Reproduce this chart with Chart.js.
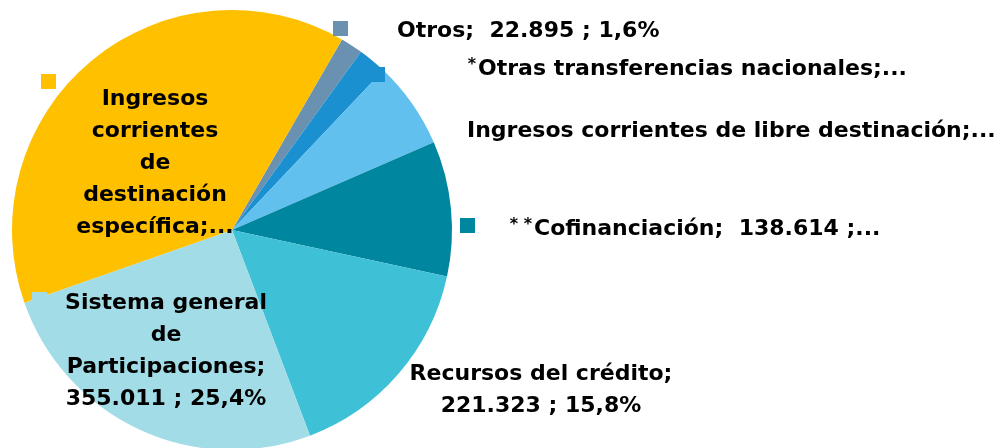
<!DOCTYPE html>
<html>
<head>
<meta charset="utf-8">
<script src="https://cdn.jsdelivr.net/npm/chart.js@4"></script>
<style>
  html, body { margin: 0; padding: 0; background: #fff; overflow: hidden; }
  #wrap { width: 1004px; height: 460px; }
</style>
</head>
<body>
<div id="wrap"><canvas id="myChart"></canvas></div>
<script>
// slices, clockwise from the top-right
const categories = [
  'Otros',
  '*Otras transferencias nacionales',
  'Ingresos corrientes de libre destinación',
  '**Cofinanciación',
  'Recursos del crédito',
  'Sistema general de Participaciones',
  'Ingresos corrientes de destinación específica'
];
const values = [22895, 29400, 89500, 138614, 221323, 355011, 541000];
const colors = ['#6A91B0', '#1A90D0', '#62C0EF', '#00869E', '#3EC1D6', '#A2DCE6', '#FFC000'];

// label texts as shown on the chart
const labelLines = [
  ['Otros;  22.895 ; 1,6%'],
  ['Otras transferencias nacionales;...'],
  ['Ingresos corrientes de libre destinación;...'],
  ['Cofinanciación;  138.614 ;...'],
  ['Recursos del crédito;', '221.323 ; 15,8%'],
  ['Sistema general', 'de', 'Participaciones;', '355.011 ; 25,4%'],
  ['Ingresos', 'corrientes', 'de', 'destinación', 'específica;...']
];
const labelPrefix = ['', '*', '', '* *', '', '', ''];

// where each label sits (text anchor, legend key)
const labelPlace = [
  { x: 397, y: 31, align: 'left', key: [333, 21] },
  { x: 478, y: 69, align: 'left', key: [370, 67] },
  { x: 467, y: 131, align: 'left', key: null },
  { x: 534, y: 229, align: 'left', key: [460, 218] },
  { x: 541, y: 374, align: 'center', key: null },
  { x: 166, y: 303, align: 'center', key: [32, 292] },
  { x: 155, y: 99, align: 'center', key: [41, 74] }
];

const FONT = 'bold 22px "DejaVu Sans", sans-serif';
const LINE_H = 32;

const sliceLabels = {
  id: 'sliceLabels',
  afterDatasetsDraw(chart) {
    const ctx = chart.ctx;
    ctx.save();
    labelPlace.forEach((p, i) => {
      if (p.key) {
        ctx.fillStyle = colors[i];
        ctx.fillRect(p.key[0], p.key[1], 15, 15);
      }
    });
    ctx.fillStyle = '#000';
    ctx.textBaseline = 'middle';
    labelLines.forEach((lines, i) => {
      const p = labelPlace[i];
      ctx.font = FONT;
      ctx.textAlign = p.align;
      lines.forEach((t, j) => {
        ctx.fillText(t, p.x, p.y + j * LINE_H);
      });
      if (labelPrefix[i]) {
        ctx.font = 'bold 16px "DejaVu Sans", sans-serif';
        ctx.textAlign = 'right';
        ctx.fillText(labelPrefix[i], p.x - 2, p.y - 4);
      }
    });
    ctx.restore();
  }
};

const data = {
  labels: categories,
  datasets: [{
    data: values,
    backgroundColor: colors,
    borderWidth: 0
  }]
};

const config = {
  type: 'pie',
  data: data,
  options: {
    responsive: true,
    maintainAspectRatio: false,
    animation: false,
    rotation: 30,
    layout: { padding: { left: 12, right: 552, top: 10, bottom: 10 } },
    plugins: {
      legend: { display: false },
      tooltip: { enabled: false }
    }
  },
  plugins: [sliceLabels]
};

const myChart = new Chart(document.getElementById('myChart'), config);
</script>
</body>
</html>
